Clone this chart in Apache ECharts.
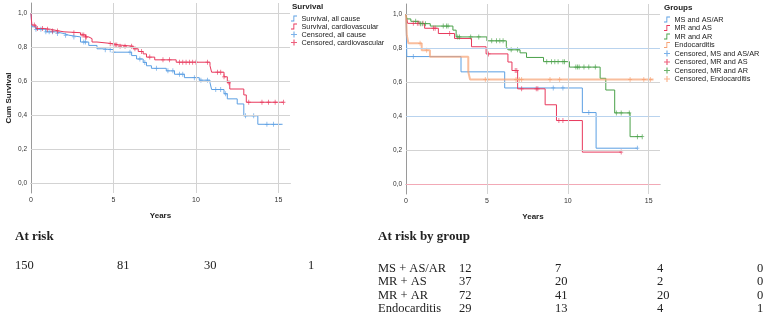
<!DOCTYPE html>
<html>
<head>
<meta charset="utf-8">
<script src="https://cdn.jsdelivr.net/npm/echarts@6/dist/echarts.min.js"></script>
<style>
  html, body { margin: 0; padding: 0; background: #fff; }
  #main { width: 763px; height: 315px; }
</style>
</head>
<body>
<div id="main"></div>
<script>
// ticks
const yearTicks = [0, 5, 10, 15];
const survTicks = [0, 0.2, 0.4, 0.6, 0.8, 1.0];

// left plot: survival, all cause vs cardiovascular (step start times / survival)
const allCauseT = [0, 0.05, 0.3, 0.9, 1.5, 2.0, 2.3, 3.0, 3.5, 4.0, 4.3, 5.0, 6.1, 6.4, 6.8, 7.0, 7.3, 8.2, 8.7, 9.3, 10.2, 10.85, 10.95, 11.7, 11.9, 12.5, 12.9, 13.75, 15.25];
const allCauseS = [1.0, 0.92, 0.905, 0.89, 0.88, 0.87, 0.86, 0.83, 0.81, 0.79, 0.785, 0.77, 0.75, 0.73, 0.71, 0.69, 0.675, 0.66, 0.64, 0.62, 0.605, 0.59, 0.55, 0.525, 0.495, 0.465, 0.395, 0.345, 0.345];
const allCauseCens = [0.3, 0.6, 0.9, 1.1, 1.3, 1.6, 2.1, 2.6, 3.2, 3.3, 4.5, 4.8, 5.0, 6.0, 6.6, 6.9, 7.6, 8.3, 8.6, 9.0, 9.2, 9.9, 10.3, 10.7, 11.2, 11.5, 11.8, 13.0, 13.5, 14.3, 14.7, 15.0];

const cardioT = [0, 0.05, 0.3, 0.8, 1.2, 1.7, 2.0, 3.0, 3.3, 3.5, 3.7, 4.0, 5.0, 5.3, 6.2, 6.5, 6.8, 7.0, 7.5, 8.8, 10.85, 10.95, 11.7, 11.9, 12.05, 12.9, 13.05, 15.3];
const cardioS = [1.0, 0.93, 0.91, 0.905, 0.895, 0.89, 0.885, 0.872, 0.86, 0.85, 0.83, 0.82, 0.813, 0.805, 0.79, 0.774, 0.76, 0.741, 0.725, 0.711, 0.69, 0.652, 0.625, 0.59, 0.553, 0.518, 0.475, 0.475];
const cardioCens = [0.2, 0.4, 0.7, 1.0, 1.3, 1.6, 2.6, 3.1, 3.2, 3.3, 3.35, 4.8, 5.0, 5.1, 5.2, 5.4, 5.7, 6.1, 6.3, 6.7, 7.2, 8.0, 8.4, 9.0, 9.2, 9.4, 9.6, 9.8, 10.0, 10.7, 11.3, 11.5, 11.7, 12.0, 13.2, 14.0, 14.4, 14.8, 15.3];

// right plot: groups
const msT = [0, 0.05, 3.4, 6.1, 10.9, 11.75, 14.3];
const msS = [1.0, 0.75, 0.66, 0.565, 0.42, 0.21, 0.21];
const msCens = [0.45, 9.1, 9.7, 11.3, 14.3];

const mrAsT = [0, 0.1, 1.15, 2.0, 3.0, 4.05, 4.95, 6.3, 6.55, 6.9, 8.6, 9.3, 10.9, 13.3];
const mrAsS = [1.0, 0.946, 0.917, 0.886, 0.857, 0.808, 0.766, 0.718, 0.668, 0.56, 0.466, 0.373, 0.187, 0.187];
const mrAsCens = [0.45, 0.7, 0.8, 1.05, 1.7, 1.8, 2.7, 5.1, 6.75, 6.85, 7.15, 8.05, 8.15, 9.45, 9.7, 13.3];

const mrArT = [0, 0.05, 0.3, 0.8, 1.5, 2.9, 3.1, 5.0, 6.2, 6.3, 7.05, 7.45, 8.5, 10.1, 12.0, 12.35, 12.9, 13.85, 14.6];
const mrArS = [1.0, 0.972, 0.958, 0.944, 0.93, 0.906, 0.866, 0.843, 0.81, 0.79, 0.772, 0.745, 0.72, 0.688, 0.622, 0.553, 0.418, 0.278, 0.278];
const mrArCens = [0.6, 0.9, 1.0, 1.2, 2.3, 2.5, 2.6, 3.2, 3.3, 4.0, 4.5, 5.3, 5.6, 5.8, 6.0, 6.5, 6.9, 8.7, 9.0, 9.2, 9.4, 9.7, 9.8, 10.5, 10.6, 10.7, 11.0, 11.3, 11.7, 13.0, 13.3, 13.8, 14.3, 14.6];

const endoT = [0, 0.05, 0.15, 0.97, 1.48, 3.85, 3.96, 15.3];
const endoS = [1.0, 0.876, 0.828, 0.788, 0.749, 0.66, 0.615, 0.615];
const endoCens = [0.87, 1.28, 4.9, 5.05, 6.8, 7.0, 7.15, 8.9, 9.5, 13.85, 14.7, 15.1];

// at-risk tables
const atRiskAll = [150, 81, 30, 1];
const groupLabels = ['MS + AS/AR', 'MR + AS', 'MR + AR', 'Endocarditis'];
const atRiskMs = [12, 7, 4, 0];
const atRiskMrAs = [37, 20, 2, 0];
const atRiskMrAr = [72, 41, 20, 0];
const atRiskEndo = [29, 13, 4, 1];

const BLUE = '#5b9fe3';
const RED = '#e8385c';
const GREEN = '#49a048';
const ORANGE = '#f7a274';
const GRID = '#d3d3d3';
const SANS = 'Liberation Sans';
const SERIF = 'Liberation Serif';

const plusIcon = 'path://M4,0H6V4H10V6H6V10H4V6H0V4H4Z';
const stepIcon = 'path://M0,8.5H4V0H10V1.5H5.5V10H0Z';
const censSymbol = 'path://M4,0H6V4.2H10V5.8H6V10H4V5.8H0V4.2H4Z';

function stepAt(t, T, S) {
  let v = S[0];
  for (let i = 0; i < T.length; i++) { if (T[i] <= t) v = S[i]; }
  return v;
}
function curve(name, T, S, color, idx, width, opacity) {
  return {
    name: name, type: 'line', step: 'end', xAxisIndex: idx, yAxisIndex: idx,
    data: T.map((t, i) => [t, S[i]]), showSymbol: false, symbol: 'none',
    color: color, lineStyle: { color: color, width: width || 1, opacity: opacity || 1 }, z: 3, silent: true
  };
}
function censored(name, C, T, S, color, idx) {
  return {
    name: name, type: 'scatter', xAxisIndex: idx, yAxisIndex: idx,
    data: C.map(t => [t, stepAt(t, T, S)]),
    symbol: censSymbol, symbolSize: [4, 5], color: color,
    itemStyle: { color: color }, z: 4, silent: true
  };
}
function gridLines(idx, hColors) {
  const data = survTicks.map((v, i) => ({ yAxis: v, lineStyle: { color: hColors[i] } }))
    .concat(yearTicks.slice(1).map(v => ({ xAxis: v, lineStyle: { color: GRID } })));
  return {
    type: 'line', xAxisIndex: idx, yAxisIndex: idx, data: [], z: 1, silent: true,
    markLine: { silent: true, symbol: 'none', label: { show: false }, animation: false,
      lineStyle: { type: 'solid', width: 1 }, data: data }
  };
}
function fmt(v) { return v.toFixed(1).replace('.', ','); }

function xAxisCfg(idx) {
  return {
    type: 'value', gridIndex: idx, min: 0, max: 15.7,
    name: 'Years', nameLocation: 'middle', nameGap: 19,
    nameTextStyle: { fontFamily: SANS, fontWeight: 'bold', fontSize: 8, color: '#222' },
    axisLine: { lineStyle: { color: '#9a9a9a' } },
    axisTick: { customValues: yearTicks, length: 3, lineStyle: { color: '#9a9a9a' } },
    axisLabel: { customValues: yearTicks, fontFamily: SANS, fontSize: 7, color: '#333', margin: 4 },
    splitLine: { show: false }
  };
}
function yAxisCfg(idx, name) {
  return {
    type: 'value', gridIndex: idx, min: -0.06, max: 1.06,
    name: name, nameLocation: 'middle', nameGap: 18,
    nameTextStyle: { fontFamily: SANS, fontWeight: 'bold', fontSize: 8, color: '#222' },
    axisLine: { show: true, lineStyle: { color: '#9a9a9a' } },
    axisTick: { show: false },
    axisLabel: { customValues: survTicks, formatter: fmt, fontFamily: SANS, fontSize: 6.5, color: '#333', margin: 4 },
    splitLine: { show: false }
  };
}
function legendCfg(left, top, names, gap) {
  return {
    orient: 'vertical', left: left, top: top, padding: 0, itemGap: gap,
    itemWidth: 9, itemHeight: 6, selectedMode: false,
    textStyle: { fontFamily: SANS, fontSize: 7.3, lineHeight: 7, color: '#222', padding: [0, 0, 0, -2] },
    data: names.map(n => ({ name: n, icon: n.indexOf('Censored') === 0 ? plusIcon : stepIcon }))
  };
}
function txt(x, y, s, font) {
  return { type: 'text', left: x, top: y, style: { text: String(s), font: font, fill: '#222' } };
}

const tableFont = '12.5px "' + SERIF + '"';
const tableBold = 'bold 13px "' + SERIF + '"';
const leftCols = [15, 117, 204, 308];
const rightCols = [459, 555, 657, 757];
const rowY = [262, 275, 289, 302];
const groupRisk = [atRiskMs, atRiskMrAs, atRiskMrAr, atRiskEndo];

const graphics = [
  txt(292, 3, 'Survival', 'bold 8px "' + SANS + '"'),
  txt(664, 4, 'Groups', 'bold 8px "' + SANS + '"'),
  txt(15, 230, 'At risk', tableBold),
  txt(378, 230, 'At risk by group', tableBold)
];
atRiskAll.forEach((n, i) => graphics.push(txt(leftCols[i], 259, n, tableFont)));
groupLabels.forEach((g, r) => {
  graphics.push(txt(378, rowY[r], g, tableFont));
  groupRisk[r].forEach((n, i) => graphics.push(txt(rightCols[i], rowY[r], n, tableFont)));
});

const chart = echarts.init(document.getElementById('main'));
chart.setOption({
  animation: false,
  backgroundColor: '#fff',
  grid: [
    { left: 31, top: 3, width: 259, height: 190 },
    { left: 406, top: 4, width: 254, height: 190 }
  ],
  xAxis: [xAxisCfg(0), xAxisCfg(1)],
  yAxis: [yAxisCfg(0, 'Cum Survival'), yAxisCfg(1, '')],
  legend: [
    legendCfg(291, 15, ['Survival, all cause', 'Survival, cardiovascular', 'Censored, all cause', 'Censored, cardiovascular'], 1),
    legendCfg(664, 16, ['MS and AS/AR', 'MR and AS', 'MR and AR', 'Endocarditis',
      'Censored, MS and AS/AR', 'Censored, MR and AS', 'Censored, MR and AR', 'Censored, Endocarditis'], 1.5)
  ],
  graphic: graphics,
  series: [
    gridLines(0, [GRID, GRID, GRID, GRID, GRID, GRID]),
    gridLines(1, ['#f2a9b6', GRID, '#b9d3ee', GRID, '#b9d3ee', GRID]),
    curve('Survival, all cause', allCauseT, allCauseS, BLUE, 0),
    curve('Survival, cardiovascular', cardioT, cardioS, RED, 0),
    censored('Censored, all cause', allCauseCens, allCauseT, allCauseS, BLUE, 0),
    censored('Censored, cardiovascular', cardioCens, cardioT, cardioS, RED, 0),
    curve('MS and AS/AR', msT, msS, BLUE, 1),
    curve('MR and AS', mrAsT, mrAsS, RED, 1),
    curve('MR and AR', mrArT, mrArS, GREEN, 1),
    curve('Endocarditis', endoT, endoS, ORANGE, 1, 2, 0.7),
    censored('Censored, MS and AS/AR', msCens, msT, msS, BLUE, 1),
    censored('Censored, MR and AS', mrAsCens, mrAsT, mrAsS, RED, 1),
    censored('Censored, MR and AR', mrArCens, mrArT, mrArS, GREEN, 1),
    censored('Censored, Endocarditis', endoCens, endoT, endoS, ORANGE, 1)
  ]
});
</script>
</body>
</html>
